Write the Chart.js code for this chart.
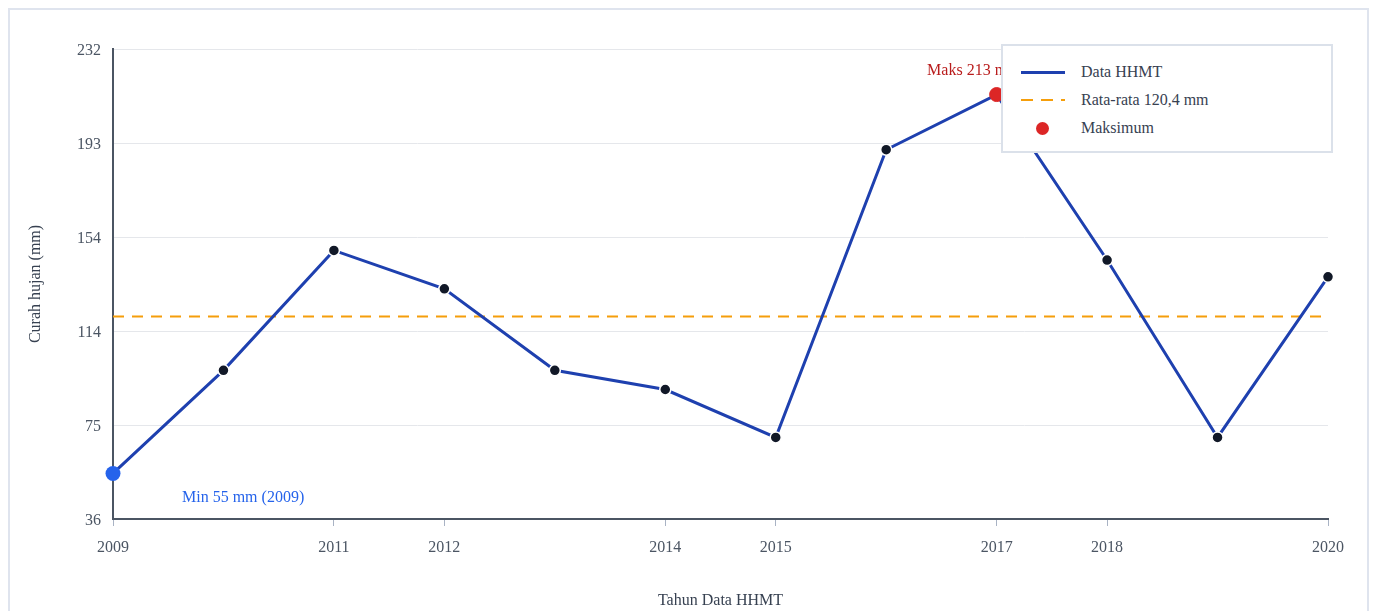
<!DOCTYPE html>
<html>
<head>
<meta charset="utf-8">
<title>Curah hujan HHMT</title>
<script src="https://cdn.jsdelivr.net/npm/chart.js@4.4.1/dist/chart.umd.min.js"></script>
<style>
  html, body { margin: 0; padding: 0; background: #fff; }
  #frame { position: absolute; left: 8px; top: 8px; width: 1361px; height: 640px; border: 2px solid #dfe4ee; box-sizing: border-box; }
  #chartWrap { position: absolute; left: 0; top: 0; width: 1357px; height: 636px; }
  #legend { position: absolute; left: 991px; top: 34px; width: 332px; height: 109px; box-sizing: border-box;
    border: 2px solid #dbe1ea; background: #fff; font-family: "Liberation Serif", "Times New Roman", serif; font-size: 16px; color: #374151; }
  .row { position: absolute; left: 0; height: 20px; line-height: 20px; }
  .row .lbl { position: absolute; left: 78px; top: 0; white-space: nowrap; }
  .row .sw { position: absolute; left: 18px; width: 44px; }
</style>
</head>
<body>
<div id="frame">
  <div id="chartWrap"><canvas id="rainChart"></canvas></div>
  <div id="legend">
    <div class="row" style="top:16px"><span class="sw" style="top:9px;height:3px;background:#1e40af"></span><span class="lbl">Data HHMT</span></div>
    <div class="row" style="top:44px"><span class="sw" style="top:9px;height:2px;background:repeating-linear-gradient(90deg,#f59e0b 0 12px,transparent 12px 20px)"></span><span class="lbl" id="avgLabel"></span></div>
    <div class="row" style="top:72px"><span class="sw" style="left:33px;top:4px;width:13px;height:13px;border-radius:50%;background:#dc2626"></span><span class="lbl">Maksimum</span></div>
  </div>
</div>
<script>
// Data
const years = [2009, 2010, 2011, 2012, 2013, 2014, 2015, 2016, 2017, 2018, 2019, 2020];
const rainfall = [55, 98, 148, 132, 98, 90, 70, 190, 213, 144, 70, 137];
const xTickYears = [2009, 2011, 2012, 2014, 2015, 2017, 2018, 2020];
const yTickValues = [36, 75.2, 114.4, 153.6, 192.8, 232];

// Helpers
const serif = '"Liberation Serif", "Times New Roman", serif';
const avg = rainfall.reduce((a, b) => a + b, 0) / rainfall.length;
const maxIdx = rainfall.indexOf(Math.max(...rainfall));
const minIdx = rainfall.indexOf(Math.min(...rainfall));
const fmtAvg = avg.toFixed(1).replace('.', ',');
document.getElementById('avgLabel').textContent = `Rata-rata ${fmtAvg} mm`;

// Min / max labels
const notesPlugin = {
  id: 'notes',
  afterDatasetsDraw(chart) {
    const meta = chart.getDatasetMeta(0);
    const ctx = chart.ctx;
    const pMax = meta.data[maxIdx];
    const pMin = meta.data[minIdx];
    ctx.save();
    ctx.font = `16px ${serif}`;
    ctx.textBaseline = 'middle';
    ctx.textAlign = 'center';
    ctx.fillStyle = '#b91c1c';
    ctx.fillText(`Maks ${rainfall[maxIdx]} mm (${years[maxIdx]})`, pMax.x, pMax.y - 24);
    ctx.textAlign = 'left';
    ctx.fillStyle = '#2563eb';
    ctx.fillText(`Min ${rainfall[minIdx]} mm (${years[minIdx]})`, pMin.x + 69, pMin.y + 24);
    ctx.restore();
  }
};

const ctx = document.getElementById('rainChart');
new Chart(ctx, {
  type: 'line',
  data: {
    datasets: [
      {
        label: 'Data HHMT',
        data: years.map((y, i) => ({ x: y, y: rainfall[i] })),
        borderColor: '#1e40af',
        borderWidth: 3,
        tension: 0,
        clip: false,
        order: 1,
        pointRadius: c => (c.dataIndex === minIdx ? 7.5 : 5.5),
        pointBackgroundColor: c => (c.dataIndex === minIdx ? '#2563eb' : '#111827'),
        pointBorderColor: '#fff',
        pointBorderWidth: c => (c.dataIndex === minIdx ? 0 : 1.5)
      },
      {
        label: `Rata-rata ${fmtAvg} mm`,
        data: [{ x: years[0], y: avg }, { x: years[years.length - 1], y: avg }],
        borderColor: '#f59e0b',
        borderWidth: 2,
        borderDash: [11, 8],
        pointRadius: 0,
        order: 2
      },
      {
        label: 'Maksimum',
        data: [{ x: years[maxIdx], y: rainfall[maxIdx] }],
        showLine: false,
        clip: false,
        pointRadius: 7,
        pointBackgroundColor: '#dc2626',
        pointBorderColor: '#dc2626',
        order: 0
      }
    ]
  },
  options: {
    responsive: true,
    maintainAspectRatio: false,
    animation: false,
    layout: { padding: { left: 0, top: 39, right: 39, bottom: 32 } },
    plugins: { legend: { display: false }, tooltip: { enabled: false } },
    scales: {
      x: {
        type: 'linear',
        min: 2009,
        max: 2020,
        afterBuildTicks: s => { s.ticks = xTickYears.map(v => ({ value: v })); },
        afterFit: s => { s.height = 95; },
        ticks: { color: '#4b5563', font: { family: serif, size: 16 }, padding: 12, maxRotation: 0, callback: v => String(v) },
        grid: { drawOnChartArea: false, drawTicks: true, tickLength: 7, color: '#a9b3c4' },
        border: { color: '#4b5563', width: 2 },
        title: { display: true, text: 'Tahun Data HHMT', color: '#374151', font: { family: serif, size: 16 }, padding: { top: 0, bottom: 4 } }
      },
      y: {
        min: 36,
        max: 232,
        afterBuildTicks: s => { s.ticks = yTickValues.map(v => ({ value: v })); },
        afterFit: s => { s.width = 103; },
        ticks: { color: '#4b5563', font: { family: serif, size: 16 }, padding: 12, labelOffset: 2, callback: v => Math.round(v) },
        grid: { drawTicks: false, color: '#e5e7eb' },
        border: { color: '#4b5563', width: 2 },
        title: { display: true, text: 'Curah hujan (mm)', color: '#374151', font: { family: serif, size: 16 }, padding: { top: 16, bottom: 0 } }
      }
    }
  },
  plugins: [notesPlugin]
});
</script>
</body>
</html>
